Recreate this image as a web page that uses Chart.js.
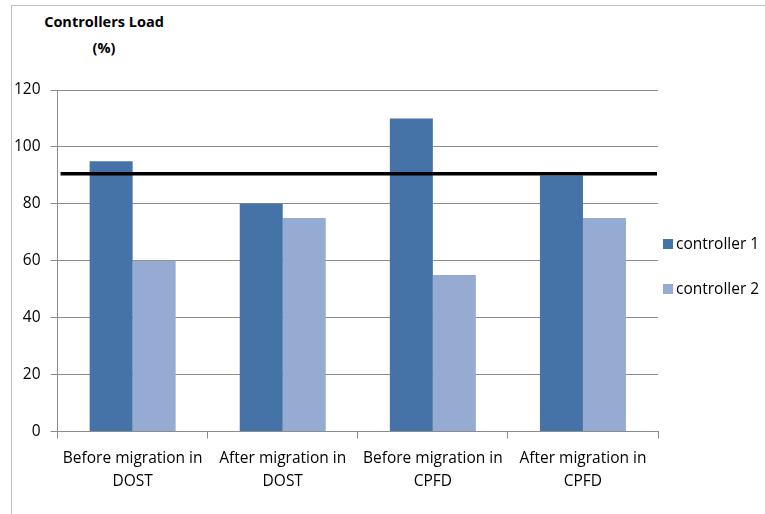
<!DOCTYPE html>
<html>
<head>
<meta charset="utf-8">
<script src="https://cdn.jsdelivr.net/npm/chart.js@4/dist/chart.umd.min.js"></script>
<style>
  html, body { margin: 0; padding: 0; background: #fff; }
  #wrap { position: relative; width: 765px; height: 514px; }
  #frame { position: absolute; left: 11px; top: 5px; right: 0; bottom: 0;
           border-top: 1px solid #bfbfbf; border-left: 1px solid #bfbfbf; }
  #title { position: absolute; left: 34px; top: 9px; width: 140px; text-align: center;
           font: bold 14.5px "Open Sans", sans-serif; line-height: 26px; color: #000; }
  #legend { position: absolute; left: 663px; top: 231px;
            font: 15.5px "Open Sans", sans-serif; color: #000; }
  #legend div { height: 45px; line-height: 24px; white-space: nowrap; }
  #legend span { display: inline-block; width: 10px; height: 10px; margin-right: 3px; }
  canvas { position: absolute; left: 0; top: 0; }
</style>
</head>
<body>
<div id="wrap">
  <div id="frame"></div>
  <div id="title">Controllers Load<br>(%)</div>
  <canvas id="chart" width="765" height="514"></canvas>
  <div id="legend"></div>
</div>
<script>
document.addEventListener("DOMContentLoaded", function () {
  const categories = [
    ["Before migration in", "DOST"],
    ["After migration in", "DOST"],
    ["Before migration in", "CPFD"],
    ["After migration in", "CPFD"],
  ];
  const controller1 = [95, 80, 110, 90];
  const controller2 = [60, 75, 55, 75];
  const threshold = 90.6;
  const yTicks = [0, 20, 40, 60, 80, 100, 120];

  const thresholdLine = {
    id: "thresholdLine",
    afterDatasetsDraw(chart) {
      const ctx = chart.ctx;
      const area = chart.chartArea;
      const y = chart.scales.y.getPixelForValue(threshold);
      ctx.save();
      ctx.strokeStyle = "#000";
      ctx.lineWidth = 3.5;
      ctx.beginPath();
      ctx.moveTo(area.left + 3, y);
      ctx.lineTo(area.right - 1, y);
      ctx.stroke();
      ctx.restore();
    },
  };

  const font = { family: "'Open Sans', sans-serif", size: 15.5, lineHeight: 1.5 };

  const chart = new Chart(document.getElementById("chart").getContext("2d"), {
    type: "bar",
    data: {
      labels: categories,
      datasets: [
        {
          label: "controller 1",
          data: controller1,
          backgroundColor: "#4573a7",
          categoryPercentage: 0.573,
          barPercentage: 1,
        },
        {
          label: "controller 2",
          data: controller2,
          backgroundColor: "#95abd2",
          categoryPercentage: 0.573,
          barPercentage: 1,
        },
      ],
    },
    options: {
      responsive: false,
      animation: false,
      layout: { padding: { top: 90, left: 4, right: 107, bottom: 13 } },
      plugins: {
        legend: { display: false },
        tooltip: { enabled: false },
      },
      scales: {
        x: {
          grid: {
            offset: true,
            drawOnChartArea: false,
            tickLength: 7,
            color: "#8c8c8c",
          },
          border: { color: "#8c8c8c" },
          ticks: { color: "#000", font: font, maxRotation: 0, padding: 8 },
        },
        y: {
          min: 0,
          max: 120,
          afterBuildTicks(axis) {
            axis.ticks = yTicks.map((v) => ({ value: v }));
          },
          grid: { color: "#8c8c8c", tickLength: 7 },
          border: { color: "#8c8c8c" },
          ticks: { color: "#000", font: font, padding: 10 },
        },
      },
    },
    plugins: [thresholdLine],
  });

  // legend built from the chart's datasets
  const legend = document.getElementById("legend");
  chart.data.datasets.forEach(function (ds) {
    const row = document.createElement("div");
    const box = document.createElement("span");
    box.style.background = ds.backgroundColor;
    row.appendChild(box);
    row.appendChild(document.createTextNode(ds.label));
    legend.appendChild(row);
  });
});
</script>
</body>
</html>
